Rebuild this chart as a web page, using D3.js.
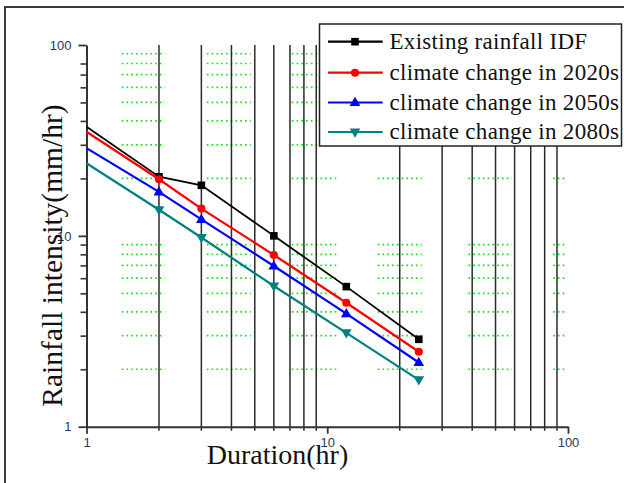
<!DOCTYPE html>
<html>
<head>
<meta charset="utf-8">
<script src="https://cdn.jsdelivr.net/npm/d3@7"></script>
<style>
  html, body { margin: 0; padding: 0; background: #fff; }
  svg { display: block; }
</style>
</head>
<body>
<svg id="chart" width="624" height="483"></svg>
<script>
// ---- data ----
const durations = [1, 2, 3, 6, 12, 24];
const existingIDF = [37.3, 20.4, 18.4, 10.0, 5.42, 2.87];
const cc2020 = [35.1, 19.8, 13.9, 7.94, 4.46, 2.47];
const cc2050 = [28.8, 17.0, 12.2, 6.95, 3.91, 2.17];
const cc2080 = [24.0, 13.7, 9.8, 5.46, 3.10, 1.76];
const seriesNames = ["Existing rainfall IDF", "climate change in 2020s", "climate change in 2050s", "climate change in 2080s"];
const majorTicks = [1, 10, 100];
const majorTickLabels = ["1", "10", "100"];
const minorX = [2, 3, 4, 5, 6, 7, 8, 9, 20, 30, 40, 50, 60, 70, 80, 90];
const minorY = [2, 3, 4, 5, 6, 7, 8, 9, 20, 30, 40, 50, 60, 70, 80];
const greenRows = [2, 3, 4, 5, 6, 7, 8, 9, 20, 30, 40, 50, 60, 70, 80, 90];
const greenSegments = [[1.40, 2.12], [3.16, 4.81], [7.12, 10.9], [16.2, 24.7], [38.6, 58.4], [86.7, 97.5]];
const xTitle = "Duration(hr)";
const yTitle = "Rainfall intensity(mm/hr)";

// ---- layout ----
const svg = d3.select("#chart");
const L = 86.5, R = 568, T = 45, B = 426.7;
const x = d3.scaleLog().domain([1, 100]).range([L, R]);
const y = d3.scaleLog().domain([1, 100]).range([B, T]);
const axisColor = "#333";
const tickFont = "'Liberation Sans', Arial, sans-serif";
const serif = "'Liberation Serif', 'Times New Roman', serif";

// outer frame (left + top)
svg.append("path").attr("d", `M5,483 L5,7 L624,7`).attr("fill", "none")
  .attr("stroke", "#3a3a3a").attr("stroke-width", 2);

// green dotted grid segments
const gGreen = svg.append("g");
greenRows.forEach(v => {
  greenSegments.forEach(s => {
    gGreen.append("line")
      .attr("x1", x(s[0])).attr("x2", x(s[1]))
      .attr("y1", y(v)).attr("y2", y(v))
      .attr("stroke", "#19e619").attr("stroke-width", 1.7)
      .attr("stroke-dasharray", "1.7,3.08");
  });
});

// vertical black grid lines at minor x positions (extend below axis as ticks)
svg.append("g").selectAll("line").data(minorX).join("line")
  .attr("x1", d => x(d)).attr("x2", d => x(d))
  .attr("y1", T).attr("y2", B + 4)
  .attr("stroke", "#2a2a2a").attr("stroke-width", 1.5);

// X axis
const gx = svg.append("g").attr("transform", `translate(0,${B})`)
  .call(d3.axisBottom(x).tickValues(majorTicks).tickSize(7).tickSizeOuter(0)
    .tickFormat((d, i) => majorTickLabels[i]));
gx.select(".domain").attr("stroke", axisColor).attr("stroke-width", 2);
gx.selectAll(".tick line").attr("stroke", axisColor).attr("stroke-width", 1.8);
gx.selectAll(".tick text").attr("font-family", tickFont).attr("font-size", 13)
  .attr("fill", "#2b3560").attr("y", 11).attr("dy", "0.71em");

// Y axis
const gy = svg.append("g").attr("transform", `translate(${L},0)`)
  .call(d3.axisLeft(y).tickValues(majorTicks).tickSize(8).tickSizeOuter(0)
    .tickFormat((d, i) => majorTickLabels[i]));
gy.select(".domain").attr("stroke", axisColor).attr("stroke-width", 2);
gy.selectAll(".tick line").attr("stroke", axisColor).attr("stroke-width", 1.8);
gy.selectAll(".tick text").attr("font-family", tickFont).attr("font-size", 13)
  .attr("fill", "#2b3560").attr("x", -15);
const gyMinor = svg.append("g").attr("transform", `translate(${L},0)`)
  .call(d3.axisLeft(y).tickValues(minorY).tickSize(6).tickSizeOuter(0).tickFormat(""));
gyMinor.select(".domain").remove();
gyMinor.selectAll(".tick line").attr("stroke", axisColor).attr("stroke-width", 1.6);

// series
const series = [
  { name: seriesNames[0], values: existingIDF, color: "#000000", shape: "square", width: 1.8 },
  { name: seriesNames[1], values: cc2020, color: "#ff0000", shape: "circle", width: 2.2 },
  { name: seriesNames[2], values: cc2050, color: "#0000ff", shape: "up", width: 2.2 },
  { name: seriesNames[3], values: cc2080, color: "#008080", shape: "down", width: 2.2 },
];

function markerPath(shape) {
  if (shape === "square") return "M-3.8,-3.8H3.8V3.8H-3.8Z";
  if (shape === "circle") return d3.symbol(d3.symbolCircle, 52)();
  if (shape === "up") return "M0,-5.7L5.4,3.6H-5.4Z";
  return "M0,5.7L5.4,-3.6H-5.4Z";
}

const gS = svg.append("g");
const line = d3.line().x(d => x(d[0])).y(d => y(d[1]));
series.forEach(s => {
  const pts = durations.map((d, i) => [d, s.values[i]]);
  gS.append("path").datum(pts).attr("d", line).attr("fill", "none")
    .attr("stroke", s.color).attr("stroke-width", s.width);
  // markers are not drawn on the axis itself (as in the reference)
  gS.selectAll(null).data(pts.filter(d => x(d[0]) > L + 1)).join("path")
    .attr("transform", d => `translate(${x(d[0])},${y(d[1])})`)
    .attr("d", markerPath(s.shape)).attr("fill", s.color);
});

// axis titles
svg.append("text").attr("x", 277.5).attr("y", 463.5).attr("text-anchor", "middle")
  .attr("font-family", serif).attr("font-size", 28).attr("fill", "#111").text(xTitle);
svg.append("text").attr("transform", "translate(62,255.5) rotate(-90)").attr("text-anchor", "middle")
  .attr("font-family", serif).attr("font-size", 29.5).attr("fill", "#111").text(yTitle);

// legend
const lg = svg.append("g");
lg.append("rect").attr("x", 319.5).attr("y", 24).attr("width", 302).attr("height", 122)
  .attr("fill", "#fff").attr("stroke", "#222").attr("stroke-width", 1.5);
const rowY = [41.7, 72.7, 102.5, 132];
series.forEach((s, i) => {
  const cy = rowY[i];
  lg.append("line").attr("x1", 328).attr("x2", 382.7).attr("y1", cy).attr("y2", cy)
    .attr("stroke", s.color).attr("stroke-width", 2.2);
  lg.append("path").attr("transform", `translate(355,${cy})`).attr("d", markerPath(s.shape)).attr("fill", s.color);
  lg.append("text").attr("x", 389.5).attr("y", cy + 7).attr("font-family", serif)
    .attr("font-size", 23).attr("letter-spacing", 0.3).attr("fill", "#111").text(s.name);
});
</script>
</body>
</html>
